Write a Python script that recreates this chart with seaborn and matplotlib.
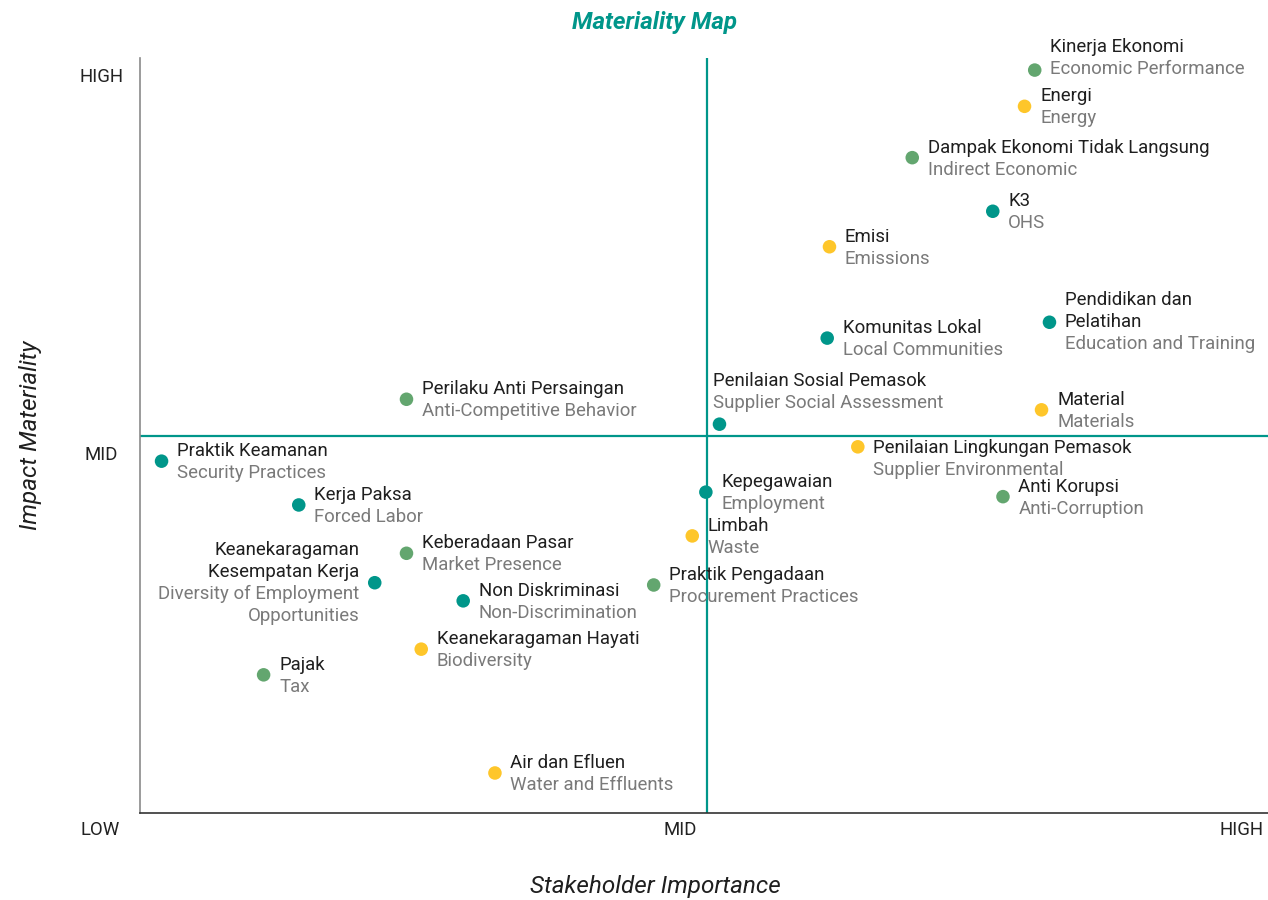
import matplotlib
matplotlib.use("Agg")
import matplotlib.pyplot as plt
import matplotlib.transforms as mtransforms
import seaborn as sns
import pandas as pd

# ========================
# Data (0-10 scale on both axes, 5 = MID)
# ========================
topics_id = [
    "Kinerja Ekonomi", "Energi", "Dampak Ekonomi Tidak Langsung", "K3", "Emisi",
    "Pendidikan dan\nPelatihan", "Komunitas Lokal", "Perilaku Anti Persaingan",
    "Penilaian Sosial Pemasok", "Material", "Praktik Keamanan",
    "Penilaian Lingkungan Pemasok", "Kepegawaian", "Anti Korupsi", "Kerja Paksa",
    "Limbah", "Keberadaan Pasar", "Keanekaragaman\nKesempatan Kerja",
    "Praktik Pengadaan", "Non Diskriminasi", "Keanekaragaman Hayati", "Pajak",
    "Air dan Efluen",
]
topics_en = [
    "Economic Performance", "Energy", "Indirect Economic", "OHS", "Emissions",
    "Education and Training", "Local Communities", "Anti-Competitive Behavior",
    "Supplier Social Assessment", "Materials", "Security Practices",
    "Supplier Environmental", "Employment", "Anti-Corruption", "Forced Labor",
    "Waste", "Market Presence", "Diversity of Employment\nOpportunities",
    "Procurement Practices", "Non-Discrimination", "Biodiversity", "Tax",
    "Water and Effluents",
]
stakeholder = [7.89, 7.80, 6.81, 7.52, 6.08, 8.02, 6.06, 2.35, 5.11, 7.95, 0.19,
               6.33, 4.99, 7.61, 1.40, 4.87, 2.35, 2.07, 4.53, 2.85, 2.48, 1.09, 3.13]
impact = [9.84, 9.36, 8.68, 7.97, 7.50, 6.50, 6.29, 5.48, 5.15, 5.34, 4.66,
          4.85, 4.25, 4.19, 4.08, 3.67, 3.44, 3.05, 3.02, 2.81, 2.17, 1.83, 0.53]
category = ["Economic", "Environmental", "Economic", "Social", "Environmental",
            "Social", "Social", "Economic", "Social", "Environmental", "Social",
            "Environmental", "Social", "Economic", "Social", "Environmental",
            "Economic", "Social", "Economic", "Social", "Environmental", "Economic",
            "Environmental"]

tick_pos = [0, 5, 10]
x_tick_labels = ["LOW", "MID", "HIGH"]
y_tick_labels = ["", "MID", "HIGH"]

palette = {"Economic": "#63a66f", "Environmental": "#fec62a", "Social": "#00968a"}
TEAL = "#00968a"

df = pd.DataFrame({"topic": topics_id, "topic_en": topics_en, "x": stakeholder,
                   "y": impact, "category": category})

# label placement exceptions (px: dx, top line dy upwards, alignment)
label_style = {
    "Kinerja Ekonomi": (15.5, 23, "left"),
    "Penilaian Sosial Pemasok": (-6, 43, "left"),
    "Penilaian Lingkungan Pemasok": (15.5, -1, "left"),
    "Pendidikan dan\nPelatihan": (15.5, 22, "left"),
    "Keanekaragaman\nKesempatan Kerja": (-15, 33, "right"),
}
default_style = (15.5, 10, "left")
LINE_GAP = 22  # px

# ========================
# Plot
# ========================
sns.set_style("white")
plt.rcParams["font.family"] = ["Roboto", "DejaVu Sans"]

fig = plt.figure(figsize=(12.68, 9), dpi=100)
ax = fig.add_axes([140 / 1268, 87 / 900, 1134 / 1268, 755 / 900])

ax.axvline(5, color=TEAL, lw=1.6, zorder=1)
ax.axhline(5, color=TEAL, lw=1.6, zorder=1)

sns.scatterplot(data=df, x="x", y="y", hue="category", palette=palette, s=95,
                edgecolor="none", legend=False, ax=ax, zorder=3, clip_on=False)

px = 0.72  # points per pixel at dpi 100
for _, row in df.iterrows():
    dx, top, ha = label_style.get(row["topic"], default_style)
    lines = [(l, "#1f1f1f") for l in row["topic"].split("\n")] + \
            [(l, "#7a7a7a") for l in row["topic_en"].split("\n")]
    for i, (txt, col) in enumerate(lines):
        ax.annotate(txt, xy=(row["x"], row["y"]),
                    xytext=(dx * px, (top - i * LINE_GAP) * px),
                    textcoords="offset points", ha=ha, va="center",
                    fontsize=13.4, color=col, annotation_clip=False)

ax.set_xlim(0, 10)
ax.set_ylim(0, 10)
ax.set_xticks(tick_pos)
ax.set_xticklabels(x_tick_labels, fontsize=13.4, color="#222222")
ax.set_yticks(tick_pos)
ax.set_yticklabels(y_tick_labels, fontsize=13.4, color="#222222")
ax.tick_params(axis="both", length=0)
ax.tick_params(axis="x", pad=6)
ax.tick_params(axis="y", pad=28)

x_shift = [-40, -27, -32]
for lbl, sh in zip(ax.get_xticklabels(), x_shift):
    lbl.set_horizontalalignment("center")
    lbl.set_transform(lbl.get_transform() +
                      mtransforms.ScaledTranslation(sh / 100, 0, fig.dpi_scale_trans))
for lbl in ax.get_yticklabels():
    lbl.set_horizontalalignment("center")
    lbl.set_transform(lbl.get_transform() +
                      mtransforms.ScaledTranslation(0, -17.5 / 100, fig.dpi_scale_trans))

for side in ["top", "right"]:
    ax.spines[side].set_visible(False)
ax.spines["left"].set_color("#8a8a8a")
ax.spines["left"].set_linewidth(1.2)
ax.spines["bottom"].set_color("#333333")
ax.spines["bottom"].set_linewidth(1.2)
ax.set_xlabel("")
ax.set_ylabel("")

fig.text(655 / 1268, 1 - 22 / 900, "Materiality Map", ha="center", va="center",
         fontsize=17.4, fontweight="bold", fontstyle="italic", color=TEAL)
fig.text(655 / 1268, 1 - 887 / 900, "Stakeholder Importance", ha="center",
         va="center", fontsize=17.5, fontstyle="italic", color="#1f1f1f")
fig.text(31 / 1268, 1 - 435 / 900, "Impact Materiality", ha="center", va="center",
         rotation=90, fontsize=17.5, fontstyle="italic", color="#1f1f1f")

fig.savefig("out.png", dpi=100)
plt.close(fig)
